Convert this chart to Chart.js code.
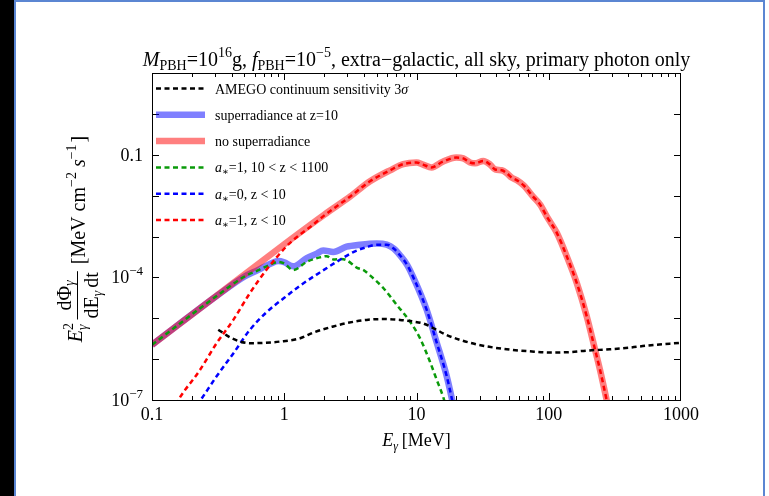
<!DOCTYPE html>
<html>
<head>
<meta charset="utf-8">
<script src="https://cdn.jsdelivr.net/npm/chart.js@4/dist/chart.umd.min.js"></script>
<style>
  html, body { margin: 0; padding: 0; width: 769px; height: 496px; overflow: hidden; background: #fff; }
  #strip { position: absolute; left: 0; top: 0; width: 14px; height: 496px; background: #000; }
  #frame { position: absolute; left: 14px; top: 0; width: 747px; height: 500px;
           border-left: 2px solid #5b86d2; border-top: 2px solid #5b86d2; border-right: 2px solid #5b86d2; }
  #c { position: absolute; left: 0; top: 0; }
</style>
</head>
<body>
<div id="strip"></div>
<div id="frame"></div>
<canvas id="c" width="769" height="496"></canvas>
<script>
/* ── 数据 ── */

// no superradiance（粗粉色实线）
const noSrE    = [0.1, 0.316, 1, 2.0, 3.16, 4.45, 6.31, 7.94, 10, 11.2, 13.0, 15.8, 20.0, 22.6, 25.4, 27.7, 32.0, 36.0, 39.3, 44.1, 48.1, 52.5, 57.1, 64.6, 76.4, 86.1, 96.6, 115, 137, 163, 194, 224, 244, 274, 295];
const noSrFlux = [2.24e-6, 3.80e-5, 6.46e-4, 3.39e-3, 9.55e-3, 0.0224, 0.0417, 0.0589, 0.0646, 0.0575, 0.0490, 0.0676, 0.0851, 0.0813, 0.0646, 0.0617, 0.0708, 0.0575, 0.0437, 0.0417, 0.0355, 0.0275, 0.0240, 0.0178, 9.33e-3, 6.03e-3, 3.09e-3, 1.23e-3, 3.24e-4, 7.24e-5, 1.10e-5, 1.70e-6, 5.50e-7, 1.0e-7, 3.2e-8];

// superradiance at z=10（粗蓝色实线）
const srE    = [0.1, 0.316, 0.501, 0.631, 0.794, 0.902, 1.0, 1.17, 1.48, 1.76, 1.97, 2.35, 2.96, 3.74, 5.0, 5.96, 6.76, 7.50, 8.51, 9.46, 11.9, 14.2, 16.9, 18.6, 20.0];
const srFlux = [2.24e-6, 3.72e-5, 1.05e-4, 1.51e-4, 2.19e-4, 2.51e-4, 2.34e-4, 1.86e-4, 2.95e-4, 3.80e-4, 4.57e-4, 4.17e-4, 5.62e-4, 6.31e-4, 6.76e-4, 6.31e-4, 5.01e-4, 3.47e-4, 2.0e-4, 1.0e-4, 1.66e-5, 2.57e-6, 3.89e-7, 1.0e-7, 3.2e-8];

// a*=1, 10 < z < 1100（绿色虚线）
const greenE    = [0.1, 0.316, 0.501, 0.631, 0.794, 0.902, 1.0, 1.17, 1.48, 1.86, 2.09, 2.35, 2.69, 2.96, 3.53, 3.98, 4.45, 5.61, 7.08, 8.93, 10.6, 12.6, 14.2, 16.0, 17.4];
const greenFlux = [2.24e-6, 3.72e-5, 1.05e-4, 1.48e-4, 2.09e-4, 2.40e-4, 2.19e-4, 1.51e-4, 2.40e-4, 3.09e-4, 3.31e-4, 2.75e-4, 2.82e-4, 2.63e-4, 1.74e-4, 1.51e-4, 1.12e-4, 5.50e-5, 2.14e-5, 8.32e-6, 3.31e-6, 8.91e-7, 3.16e-7, 1.12e-7, 4.0e-8];

// a*=0, z < 10（蓝色虚线）
const blueE    = [0.2, 0.231, 0.308, 0.412, 0.551, 0.736, 1.0, 1.32, 1.86, 2.49, 3.33, 4.20, 5.0, 5.96, 6.76, 7.50, 8.51, 9.46, 11.9, 14.2, 16.9, 18.6, 20.0];
const blueFlux = [5.0e-8, 9.55e-8, 3.80e-7, 1.38e-6, 5.25e-6, 1.41e-5, 3.16e-5, 6.31e-5, 1.32e-4, 2.40e-4, 4.17e-4, 5.50e-4, 6.31e-4, 6.31e-4, 5.01e-4, 3.47e-4, 2.0e-4, 1.0e-4, 1.66e-5, 2.57e-6, 3.89e-7, 1.0e-7, 3.2e-8];

// a*=1, z < 10（红色虚线）
const redE    = [0.141, 0.158, 0.231, 0.308, 0.412, 0.551, 0.736, 1.04, 1.26, 1.58, 2.0, 3.16, 4.45, 6.31, 7.94, 10, 11.2, 13.0, 15.8, 20.0, 22.6, 25.4, 27.7, 32.0, 36.0, 39.3, 44.1, 48.1, 52.5, 57.1, 64.6, 76.4, 86.1, 96.6, 115, 137, 163, 194, 224, 244, 274, 295];
const redFlux = [5.0e-8, 1.0e-7, 5.50e-7, 2.45e-6, 9.12e-6, 4.17e-5, 1.55e-4, 5.75e-4, 1.0e-3, 1.74e-3, 3.24e-3, 9.55e-3, 0.0224, 0.0417, 0.0589, 0.0646, 0.0575, 0.0490, 0.0676, 0.0851, 0.0813, 0.0646, 0.0617, 0.0708, 0.0575, 0.0437, 0.0417, 0.0355, 0.0275, 0.0240, 0.0178, 9.33e-3, 6.03e-3, 3.09e-3, 1.23e-3, 3.24e-4, 7.24e-5, 1.10e-5, 1.70e-6, 5.50e-7, 1.0e-7, 3.2e-8];

// AMEGO continuum sensitivity 3σ（黑色虚线）
const amegoE    = [0.317, 0.380, 0.462, 0.551, 0.708, 0.929, 1.32, 1.66, 2.35, 2.96, 4.20, 5.61, 7.50, 9.44, 11.3, 13.4, 16.9, 21.4, 26.9, 35.5, 48.1, 72.1, 102, 141, 194, 290, 411, 550, 1000];
const amegoFlux = [5.25e-6, 3.55e-6, 2.69e-6, 2.45e-6, 2.51e-6, 2.69e-6, 3.24e-6, 4.47e-6, 6.31e-6, 7.59e-6, 9.12e-6, 9.55e-6, 9.12e-6, 8.32e-6, 7.41e-6, 5.75e-6, 3.89e-6, 2.95e-6, 2.40e-6, 2.0e-6, 1.74e-6, 1.55e-6, 1.45e-6, 1.48e-6, 1.62e-6, 1.74e-6, 1.91e-6, 2.14e-6, 2.51e-6];

// 坐标轴刻度
const xTickVals   = [0.1, 1, 10, 100, 1000];
const xTickLabels = ['0.1', '1', '10', '100', '1000'];
const yTickVals   = [1e-7, 1e-6, 1e-5, 1e-4, 1e-3, 1e-2, 0.1, 1, 10];
const yLabelVals  = [1e-7, 1e-4, 0.1];

/* ── 绘图 ── */

const SERIF = '"Liberation Serif", "DejaVu Serif", serif';
const f = (size, italic) => `${italic ? 'italic ' : ''}${size}px ${SERIF}`;

const pts = (xs, ys) => xs.map((x, i) => ({ x, y: ys[i] }));

const DASH = [5, 3.5];

// 多段文本（上下标）
function partWidth(ctx, parts) {
    let w = 0;
    parts.forEach(p => { ctx.font = p.f; if (!p.back) w += ctx.measureText(p.t).width + (p.gap || 0); });
    return w;
}
function drawParts(ctx, parts, x, y, align) {
    const w = partWidth(ctx, parts);
    let cx = align === 'center' ? x - w / 2 : align === 'right' ? x - w : x;
    ctx.textAlign = 'left';
    ctx.textBaseline = 'alphabetic';
    parts.forEach(p => {
        ctx.font = p.f;
        ctx.fillText(p.t, cx, y + (p.dy || 0));
        if (!p.back) cx += ctx.measureText(p.t).width + (p.gap || 0);
    });
    return w;
}

const legendItems = [
    { color: '#000', width: 2.5, dash: DASH, parts: [{ t: 'AMEGO continuum sensitivity 3', f: f(14) }, { t: 'σ', f: f(14, true) }] },
    { color: 'rgba(0,0,255,0.5)', width: 6.5, dash: [], parts: [{ t: 'superradiance at z=10', f: f(14) }] },
    { color: 'rgba(255,0,0,0.5)', width: 6.5, dash: [], parts: [{ t: 'no superradiance', f: f(14) }] },
    { color: '#0a9a0a', width: 2.5, dash: DASH, parts: [{ t: 'a', f: f(14, true) }, { t: '∗', f: f(10), dy: 3 }, { t: '=1, 10 < z < 1100', f: f(14) }] },
    { color: '#0000ff', width: 2.5, dash: DASH, parts: [{ t: 'a', f: f(14, true) }, { t: '∗', f: f(10), dy: 3 }, { t: '=0, z < 10', f: f(14) }] },
    { color: '#ff0000', width: 2.5, dash: DASH, parts: [{ t: 'a', f: f(14, true) }, { t: '∗', f: f(10), dy: 3 }, { t: '=1, z < 10', f: f(14) }] },
];

const decor = {
    id: 'decor',
    afterDraw(chart) {
        const ctx = chart.ctx;
        const xs = chart.scales.x, ys = chart.scales.y;
        const a = chart.chartArea;
        ctx.save();

        // 边框
        ctx.strokeStyle = '#000';
        ctx.lineWidth = 1;
        ctx.strokeRect(a.left + 0.5, a.top + 0.5, a.right - a.left - 1, a.bottom - a.top);

        // x 刻度（朝内，上下两边）
        ctx.beginPath();
        for (let d = 0.1; d < 1000; d *= 10) {
            for (let k = 1; k <= 9; k++) {
                const v = d * k;
                const px = Math.round(xs.getPixelForValue(v)) + 0.5;
                const len = k === 1 ? 7 : 4;
                ctx.moveTo(px, a.bottom); ctx.lineTo(px, a.bottom - len);
                ctx.moveTo(px, a.top); ctx.lineTo(px, a.top + len);
            }
        }
        // y 刻度（朝内，左右两边）
        yTickVals.forEach(v => {
            const py = Math.round(ys.getPixelForValue(v)) + 0.5;
            ctx.moveTo(a.left, py); ctx.lineTo(a.left + 7, py);
            ctx.moveTo(a.right, py); ctx.lineTo(a.right - 7, py);
        });
        ctx.stroke();

        ctx.fillStyle = '#000';
        // x 刻度标签
        xTickVals.forEach((v, i) => {
            drawParts(ctx, [{ t: xTickLabels[i], f: f(18) }], xs.getPixelForValue(v), a.bottom + 20, 'center');
        });
        // y 刻度标签
        yLabelVals.forEach(v => {
            const py = ys.getPixelForValue(v) + 6;
            const e = Math.round(Math.log10(v));
            if (v === 0.1) {
                drawParts(ctx, [{ t: '0.1', f: f(18) }], a.left - 9, py, 'right');
            } else {
                drawParts(ctx, [{ t: '10', f: f(18) }, { t: '−' + Math.abs(e), f: f(13), dy: -8 }], a.left - 9, py, 'right');
            }
        });

        // x 轴标题
        drawParts(ctx, [
            { t: 'E', f: f(18, true) }, { t: 'γ', f: f(12, true), dy: 4, gap: 4 },
            { t: '[MeV]', f: f(18) },
        ], (a.left + a.right) / 2, 446, 'center');

        // 标题
        drawParts(ctx, [
            { t: 'M', f: f(20, true) }, { t: 'PBH', f: f(14), dy: 4 },
            { t: '=10', f: f(20) }, { t: '16', f: f(14), dy: -9 },
            { t: 'g, ', f: f(20) },
            { t: 'f', f: f(20, true) }, { t: 'PBH', f: f(14), dy: 4 },
            { t: '=10', f: f(20) }, { t: '−5', f: f(14), dy: -9 },
            { t: ', extra−galactic, all sky, primary photon only', f: f(20) },
        ], (a.left + a.right) / 2, 66, 'center');

        // y 轴标题（旋转）
        ctx.save();
        ctx.translate(80, 239);
        ctx.rotate(-Math.PI / 2);
        const head = [
            { t: 'E', f: f(20, true) },
            { t: '2', f: f(14), dy: -9, back: true },
            { t: 'γ', f: f(14, true), dy: 5, gap: 2 },
        ];
        const num = [{ t: 'dΦ', f: f(20) }, { t: 'γ', f: f(14, true), dy: 3 }];
        const den = [{ t: 'dE', f: f(20) }, { t: 'γ', f: f(14, true), dy: 4, gap: 3 }, { t: 'dt', f: f(20) }];
        const tail = [
            { t: '[MeV cm', f: f(20) }, { t: '−2', f: f(14), dy: -9, gap: 5 },
            { t: 's', f: f(20, true) }, { t: '−1', f: f(14), dy: -9, gap: 2 },
            { t: ']', f: f(20) },
        ];
        const wh = partWidth(ctx, head);
        const wf = Math.max(partWidth(ctx, num), partWidth(ctx, den)) + 2;
        const wt = partWidth(ctx, tail);
        const total = wh + 3 + wf + 7 + wt;
        let lx = -total / 2;
        drawParts(ctx, head, lx, 2, 'left');
        lx += wh + 3;
        drawParts(ctx, num, lx + wf / 2, -9, 'center');
        drawParts(ctx, den, lx + wf / 2, 18, 'center');
        ctx.beginPath();
        ctx.moveTo(lx, -2.5); ctx.lineTo(lx + wf, -2.5);
        ctx.lineWidth = 1;
        ctx.stroke();
        lx += wf + 7;
        drawParts(ctx, tail, lx, 5, 'left');
        ctx.restore();

        // 图例
        legendItems.forEach((it, i) => {
            const y = 88.5 + i * 26.3;
            ctx.beginPath();
            ctx.setLineDash(it.dash);
            ctx.lineWidth = it.width;
            ctx.strokeStyle = it.color;
            ctx.moveTo(156, y); ctx.lineTo(205, y);
            ctx.stroke();
            ctx.setLineDash([]);
            ctx.fillStyle = '#000';
            drawParts(ctx, it.parts, 215, y + 5, 'left');
        });

        ctx.restore();
    },
};

const ctx = document.getElementById('c').getContext('2d');
const chart = new Chart(ctx, {
    type: 'line',
    data: {
        datasets: [
            { label: 'AMEGO', data: pts(amegoE, amegoFlux), borderColor: '#000', borderWidth: 2.5, borderDash: DASH, order: 0 },
            { label: 'a*=1, z<10', data: pts(redE, redFlux), borderColor: '#ff0000', borderWidth: 2.5, borderDash: DASH, order: 1 },
            { label: 'a*=0, z<10', data: pts(blueE, blueFlux), borderColor: '#0000ff', borderWidth: 2.5, borderDash: DASH, order: 2 },
            { label: 'a*=1, 10<z<1100', data: pts(greenE, greenFlux), borderColor: '#0a9a0a', borderWidth: 2.5, borderDash: DASH, order: 3 },
            { label: 'no superradiance', data: pts(noSrE, noSrFlux), borderColor: 'rgba(255,0,0,0.5)', borderWidth: 6.5, order: 4 },
            { label: 'superradiance at z=10', data: pts(srE, srFlux), borderColor: 'rgba(0,0,255,0.5)', borderWidth: 6.5, order: 5 },
        ],
    },
    options: {
        responsive: false,
        animation: false,
        layout: { padding: { left: 0, right: 88, top: 73, bottom: 0 } },
        elements: {
            point: { radius: 0 },
            line: { cubicInterpolationMode: 'monotone', borderCapStyle: 'butt', borderJoinStyle: 'round', fill: false },
        },
        datasets: { line: { clip: 0 } },
        plugins: { legend: { display: false }, tooltip: { enabled: false }, title: { display: false } },
        scales: {
            x: {
                type: 'logarithmic', min: 0.1, max: 1000,
                grid: { display: false }, border: { display: false }, ticks: { display: false },
                afterFit: s => { s.height = 96; },
            },
            y: {
                type: 'logarithmic', min: 1e-7, max: 10,
                grid: { display: false }, border: { display: false }, ticks: { display: false },
                afterFit: s => { s.width = 152; },
            },
        },
    },
    plugins: [decor],
});
</script>
</body>
</html>
